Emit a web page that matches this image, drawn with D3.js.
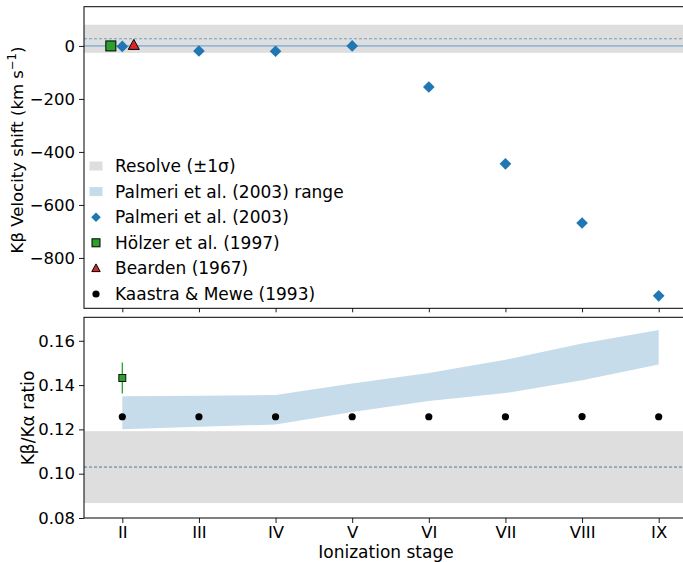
<!DOCTYPE html>
<html><head><meta charset="utf-8">
<script src="https://cdn.jsdelivr.net/npm/d3@7"></script>
<style>body{margin:0;background:#fff}svg{display:block;font-family:"DejaVu Sans",sans-serif}</style>
</head><body><svg id="c" width="683" height="562"></svg>
<script>
const stages = [2,3,4,5,6,7,8,9];
const stageLabels = ["II","III","IV","V","VI","VII","VIII","IX"];
const palmeriShift = [-2,-19,-20,0,-155,-445,-668,-943];
const holzerShift = [{stage:1.85, v:0}];
const beardenShift = [{stage:2.15, v:2}];
const resolveShift = {mean:27, sigma:53};
const velTicks = [0,-200,-400,-600,-800];
const palmeriLow = [0.1201,0.1212,0.1222,0.1279,0.1328,0.1364,0.1422,0.1493];
const palmeriHigh = [0.1350,0.1352,0.1355,0.1407,0.1455,0.1514,0.1588,0.1649];
const kaastraRatio = [0.1257,0.1257,0.1257,0.1257,0.1257,0.1257,0.1258,0.1257];
const holzerRatio = {stage:2, v:0.1432, err:0.0070};
const resolveRatio = {mean:0.1030, sigma:0.0162};
const ratioTicks = [0.08,0.10,0.12,0.14,0.16];
const legendItems = ["Resolve (±1σ)","Palmeri et al. (2003) range","Palmeri et al. (2003)","Hölzer et al. (1997)","Bearden (1967)","Kaastra & Mewe (1993)"];

const C = {blue:"#1f77b4", green:"#2ca02c", red:"#d62728", gray:"#dedede", band:"#c6dcea", zero:"#92b6d4"};
const svg = d3.select("#c");
const FS = "17px", TFS = "16.5px";
const L = 84, R = 697;
const x = d3.scaleLinear().domain([1.5,9.5]).range([L,R]);
const y1 = d3.scaleLinear().domain([-990,148]).range([308.3,6.7]);
const y2 = d3.scaleLinear().domain([0.08,0.1706]).range([518,317.3]);

// ---------- top panel ----------
const g1 = svg.append("g");
g1.append("rect").attr("x",L).attr("width",R-L)
  .attr("y",y1(resolveShift.mean+resolveShift.sigma))
  .attr("height",y1(resolveShift.mean-resolveShift.sigma)-y1(resolveShift.mean+resolveShift.sigma))
  .attr("fill",C.gray);
g1.append("line").attr("x1",L).attr("x2",R).attr("y1",y1(0)).attr("y2",y1(0))
  .attr("stroke",C.zero).attr("stroke-width",1.6);
g1.append("line").attr("x1",L).attr("x2",R).attr("y1",y1(resolveShift.mean)).attr("y2",y1(resolveShift.mean))
  .attr("stroke",C.blue).attr("stroke-opacity",0.6).attr("stroke-width",1.2).attr("stroke-dasharray","3,2");
const diamond = d3.symbol().type(d3.symbolSquare).size(68);
g1.selectAll(".pd").data(stages).join("path")
  .attr("d",diamond).attr("fill",C.blue)
  .attr("transform",(d,i)=>`translate(${x(d)},${y1(palmeriShift[i])}) rotate(45)`);
g1.selectAll(".hs").data(holzerShift).join("rect")
  .attr("x",d=>x(d.stage)-5).attr("y",d=>y1(d.v)-5).attr("width",10).attr("height",10)
  .attr("fill",C.green).attr("stroke","#000").attr("stroke-width",1);
g1.selectAll(".bt").data(beardenShift).join("path")
  .attr("d","M0,-6L5.5,4L-5.5,4Z").attr("fill",C.red).attr("stroke","#000").attr("stroke-width",1)
  .attr("transform",d=>`translate(${x(d.stage)},${y1(d.v)})`);

const ax1 = d3.axisLeft(y1).tickValues(velTicks).tickSize(5).tickPadding(4)
  .tickFormat(d=>d3.format("d")(d).replace("-","−"));
const a1 = g1.append("g").attr("transform",`translate(${L},0)`).call(ax1);
a1.select(".domain").remove();
a1.selectAll("text").attr("font-size",TFS).attr("fill","#000").attr("font-family","DejaVu Sans");
a1.selectAll("line").attr("stroke","#000").attr("stroke-width",0.9);
const bx1 = g1.append("g").attr("transform",`translate(0,${y1.range()[0]})`)
  .call(d3.axisBottom(x).tickValues(stages).tickSize(4).tickFormat(""));
bx1.select(".domain").remove();
bx1.selectAll("line").attr("stroke","#000").attr("stroke-width",0.9);
g1.append("rect").attr("x",L).attr("y",6.7).attr("width",R-L).attr("height",308.3-6.7)
  .attr("fill","none").attr("stroke","#000").attr("stroke-width",1);
const yl1 = g1.append("text").attr("transform",`translate(23,150) rotate(-90)`).attr("text-anchor","middle")
  .attr("font-size","16.5px");
yl1.append("tspan").text("Kβ Velocity shift  (km s");
yl1.append("tspan").attr("font-size","11.5px").attr("dy",-7).text("−1");
yl1.append("tspan").attr("dy",7).text(")");

// legend
const lg = svg.append("g");
legendItems.forEach((t,i)=>{
  const cy = 166 + i*25.6;
  const gi = lg.append("g").attr("transform",`translate(96,${cy})`);
  if(i===0) gi.append("rect").attr("x",-6.5).attr("y",-4.5).attr("width",13).attr("height",9).attr("fill",C.gray);
  if(i===1) gi.append("rect").attr("x",-6.5).attr("y",-4.5).attr("width",13).attr("height",9).attr("fill",C.band);
  if(i===2) gi.append("path").attr("d",d3.symbol().type(d3.symbolSquare).size(46)).attr("transform","rotate(45)").attr("fill",C.blue);
  if(i===3) gi.append("rect").attr("x",-4).attr("y",-4).attr("width",8).attr("height",8).attr("fill",C.green).attr("stroke","#000").attr("stroke-width",1);
  if(i===4) gi.append("path").attr("d","M0,-4.5L4.2,3.2L-4.2,3.2Z").attr("fill",C.red).attr("stroke","#000").attr("stroke-width",1);
  if(i===5) gi.append("circle").attr("r",3.6).attr("fill","#000");
  lg.append("text").attr("x",115).attr("y",cy).attr("dy","0.35em").attr("font-size",FS).text(t);
});

// ---------- bottom panel ----------
const g2 = svg.append("g");
g2.append("rect").attr("x",L).attr("width",R-L)
  .attr("y",y2(resolveRatio.mean+resolveRatio.sigma))
  .attr("height",y2(resolveRatio.mean-resolveRatio.sigma)-y2(resolveRatio.mean+resolveRatio.sigma))
  .attr("fill",C.gray);
g2.append("line").attr("x1",L).attr("x2",R).attr("y1",y2(resolveRatio.mean)).attr("y2",y2(resolveRatio.mean))
  .attr("stroke","#3a6f99").attr("stroke-width",0.9).attr("stroke-dasharray","3,2");
const area = d3.area().x((d,i)=>x(stages[i])).y0((d,i)=>y2(palmeriLow[i])).y1((d,i)=>y2(palmeriHigh[i]));
g2.append("path").datum(stages).attr("d",area).attr("fill",C.band);
g2.append("line").attr("x1",x(holzerRatio.stage)).attr("x2",x(holzerRatio.stage))
  .attr("y1",y2(holzerRatio.v-holzerRatio.err)).attr("y2",y2(holzerRatio.v+holzerRatio.err))
  .attr("stroke",C.green).attr("stroke-width",1.3);
g2.append("rect").attr("x",x(holzerRatio.stage)-3.5).attr("y",y2(holzerRatio.v)-3.5).attr("width",7).attr("height",7)
  .attr("fill",C.green).attr("stroke","#000").attr("stroke-width",0.9);
g2.selectAll(".kd").data(stages).join("circle")
  .attr("cx",d=>x(d)).attr("cy",(d,i)=>y2(kaastraRatio[i])).attr("r",3.6).attr("fill","#000");

const ax2 = d3.axisLeft(y2).tickValues(ratioTicks).tickSize(5).tickPadding(4).tickFormat(d3.format(".2f"));
const a2 = g2.append("g").attr("transform",`translate(${L},0)`).call(ax2);
a2.select(".domain").remove();
a2.selectAll("text").attr("font-size",TFS).attr("fill","#000").attr("font-family","DejaVu Sans");
a2.selectAll("line").attr("stroke","#000").attr("stroke-width",0.9);
const bx2 = g2.append("g").attr("transform",`translate(0,518)`)
  .call(d3.axisBottom(x).tickValues(stages).tickSize(5).tickPadding(3).tickFormat((d,i)=>stageLabels[i]));
bx2.select(".domain").remove();
bx2.selectAll("text").attr("font-size",TFS).attr("fill","#000").attr("font-family","DejaVu Sans");
bx2.selectAll("line").attr("stroke","#000").attr("stroke-width",0.9);
g2.append("rect").attr("x",L).attr("y",317.3).attr("width",R-L).attr("height",518-317.3)
  .attr("fill","none").attr("stroke","#000").attr("stroke-width",1);
g2.append("text").attr("transform",`translate(34,418) rotate(-90)`).attr("text-anchor","middle")
  .attr("font-size",FS).text("Kβ/Kα ratio");
g2.append("text").attr("x",386).attr("y",558).attr("text-anchor","middle").attr("font-size",FS).text("Ionization stage");
</script></body></html>
